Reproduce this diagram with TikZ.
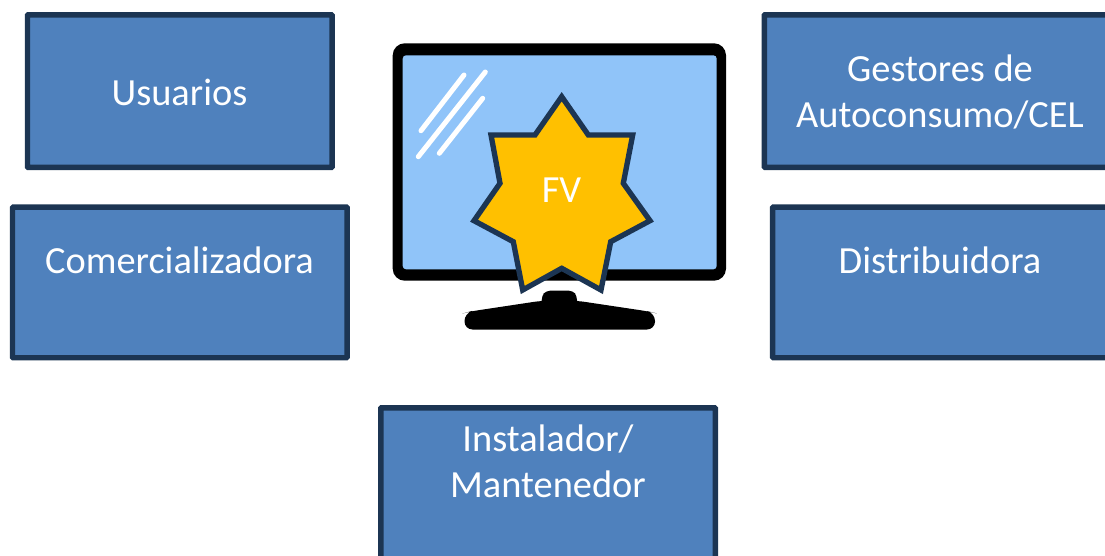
\documentclass[tikz,border=0pt]{standalone}
\usepackage{fontspec}
\setmainfont{Carlito}
\definecolor{boxfill}{HTML}{4F81BD}
\definecolor{boxline}{HTML}{1C3553}
\definecolor{screen}{HTML}{90C4F9}
\definecolor{starfill}{HTML}{FFC000}
\tikzset{
  pxpic/.style={x=0.75pt,y=-0.75pt},
  actor/.style={draw=boxline,fill=boxfill,line width=4.1pt,rounded corners=0.5pt,inner sep=0pt,outer sep=0pt,anchor=north west},
  lbl/.style={text=white,font=\fontsize{28.8}{34.5}\selectfont,align=center,inner sep=0pt},
  glare/.style={draw=white,line width=3.75pt,line cap=round}
}
\begin{document}
\begin{tikzpicture}[pxpic]
\useasboundingbox (0,0) rectangle (1105,556);
\clip (0,0) rectangle (1105,556);
% boxes
\node[actor,minimum width=228.4pt,minimum height=114.4pt] (usu) at (27.5,14.8) {};
\node[actor,minimum width=250.9pt,minimum height=112.9pt] (com) at (12.5,207.2) {};
\node[actor,minimum width=270pt,minimum height=114.4pt] (ges) at (764.3,14.8) {};
\node[actor,minimum width=270pt,minimum height=112.9pt] (dis) at (772.7,207.2) {};
\node[actor,minimum width=250.9pt,minimum height=130pt] (ins) at (380.8,407.8) {};
\node[lbl] (usut) at (179.5,92) {Usuarios};
\node[lbl] (comt) at (179.5,260) {Comercializadora};
\node[lbl] (gest) at (940,92) {Gestores de\\Autoconsumo/CEL};
\node[lbl] (dist) at (940,260) {Distribuidora};
\node[lbl] (inst) at (548,461) {Instalador/\\Mantenedor};
% monitor
\fill[black,rounded corners=9pt] (392.7,43.3) rectangle (726,280.7);
\fill[screen,rounded corners=2.5pt] (402.7,55.3) rectangle (716.7,269.3);
\fill[black,rounded corners=3pt] (541.7,305) -- (541.7,296) -- (546,290.7) -- (573,290.7) -- (577,296) -- (577,305) -- cycle;
\fill[black,rounded corners=6pt] (541.7,300.7) -- (577,300.7) -- (649,311.5) -- (655,313) -- (655,329.5) -- (464.5,329.5) -- (464.5,313) -- (470,311.5) -- cycle;
\draw[glare] (421,130.7) -- (464,75);
\draw[glare] (418.3,156.7) -- (485.3,72);
\draw[glare] (439.3,153.3) -- (482.7,98.3);
% star
\draw[draw=boxline,fill=starfill,line width=4pt,line join=miter,miter limit=3]
 (561.7,96.7) -- (588.3,135) -- (632.7,135) -- (623.3,183.3) -- (650,220.7) -- (610.7,241.7) -- (601,290) -- (561.7,268.3) -- (522.7,290) -- (513.3,241.7) -- (474,220.7) -- (500,183.3) -- (491,135) -- (535,135) -- cycle;
\node[text=white,font=\fontsize{28.8}{30}\selectfont,inner sep=0pt] (fv) at (561.5,190) {FV};
\end{tikzpicture}
\end{document}
